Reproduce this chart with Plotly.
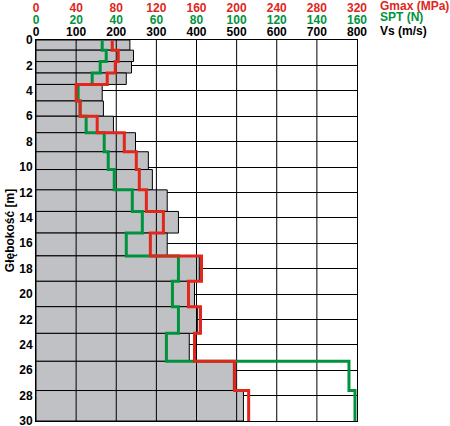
import plotly.graph_objects as go

# ---- data ----
depth_top = [0, 0.8, 1.7, 2.6, 3.5, 4.8, 6.0, 7.3, 8.8, 10.2, 11.8, 13.5, 15.2, 17.0, 19.0, 21.0, 23.1, 25.3, 27.6]
max_depth = 30
vs_values = [234, 243, 238, 225, 165, 168, 193, 248, 280, 290, 327, 355, 327, 407, 395, 403, 382, 492, 517]
gmax_values = [76, 82, 79, 71, 40, 44, 61, 88, 100, 103, 110, 127, 114, 165, 152, 164, 158, 198, 212]
spt_values = [33, 35, 32, 28, 21, 22, 25, 34, 36, 39, 48, 53, 45, 71, 68, 71, 65, 156, 159]

vs_ticks = [0, 100, 200, 300, 400, 500, 600, 700, 800]
spt_ticks = [0, 20, 40, 60, 80, 100, 120, 140, 160]
gmax_ticks = [0, 40, 80, 120, 160, 200, 240, 280, 320]
depth_ticks = [0, 2, 4, 6, 8, 10, 12, 14, 16, 18, 20, 22, 24, 26, 28, 30]

y_title = "Głębokość [m]"
gmax_title = "Gmax (MPa)"
spt_title = "SPT (N)"
vs_title = "Vs (m/s)"

# ---- styles ----
RED = "#e1261c"
GREEN = "#00933e"
GREY = "#c0c1c5"
FONT = "Liberation Sans, Arial, sans-serif"

depth_bottom = depth_top[1:] + [max_depth]
mid = [(a + b) / 2 for a, b in zip(depth_top, depth_bottom)]
thick = [b - a for a, b in zip(depth_top, depth_bottom)]

fig = go.Figure()

fig.add_trace(go.Bar(
    orientation="h", y=mid, x=vs_values, width=thick, base=0,
    marker=dict(color=GREY, line=dict(color="black", width=1)),
    xaxis="x", yaxis="y", hoverinfo="skip",
))

# vertical grid lines drawn over the bars
gx, gy = [], []
for t in vs_ticks[1:-1]:
    gx += [t, t, None]
    gy += [0, max_depth, None]
fig.add_trace(go.Scatter(x=gx, y=gy, mode="lines", line=dict(color="black", width=1),
                         xaxis="x", yaxis="y", hoverinfo="skip"))

fig.add_trace(go.Scatter(
    x=gmax_values + [gmax_values[-1]], y=depth_top + [max_depth], mode="lines",
    line=dict(color=RED, width=3, shape="vh"), xaxis="x3", yaxis="y", hoverinfo="skip",
))
fig.add_trace(go.Scatter(
    x=spt_values + [spt_values[-1]], y=depth_top + [max_depth], mode="lines",
    line=dict(color=GREEN, width=3, shape="vh"), xaxis="x2", yaxis="y", hoverinfo="skip",
))

tickfont = dict(family=FONT, size=12, weight="bold")

fig.update_layout(
    width=450, height=426,
    margin=dict(l=36, r=93, t=40, b=5),
    paper_bgcolor="white", plot_bgcolor="white",
    showlegend=False, hovermode=False,
    font=dict(family=FONT, size=12, color="black"),
    xaxis=dict(range=[0, 800], side="top", tickvals=vs_ticks, ticks="", showgrid=False,
               zeroline=False, showline=True, linecolor="black", linewidth=1, mirror=True,
               tickfont=dict(tickfont, color="black"), ticklabelstandoff=-2, automargin=False,
               ticklabeloverflow="allow"),
    xaxis2=dict(range=[0, 160], overlaying="x", anchor="y", side="top", tickvals=spt_ticks,
                ticks="", showgrid=False, zeroline=False, showline=False, automargin=False,
                tickfont=dict(tickfont, color=GREEN), ticklabelstandoff=13,
                ticklabeloverflow="allow"),
    xaxis3=dict(range=[0, 320], overlaying="x", anchor="y", side="top", tickvals=gmax_ticks,
                ticks="", showgrid=False, zeroline=False, showline=False, automargin=False,
                tickfont=dict(tickfont, color=RED), ticklabelstandoff=25,
                ticklabeloverflow="allow"),
    yaxis=dict(range=[max_depth, 0], tickvals=depth_ticks, ticks="", showgrid=True,
               gridcolor="black", gridwidth=1, zeroline=False, showline=True,
               linecolor="black", linewidth=1, mirror=True, automargin=False,
               ticklabeloverflow="allow",
               tickfont=dict(tickfont, color="black"),
               title=dict(text=y_title, font=dict(family=FONT, size=12, weight="bold"), standoff=2)),
)

tx = 1 + (378 - 357) / 321
for text, color, ypx in [(gmax_title, RED, 5.7), (spt_title, GREEN, 17.3), (vs_title, "black", 31)]:
    fig.add_annotation(text=text, xref="paper", yref="paper", x=tx, y=1 + (40 - ypx) / 381,
                       xanchor="left", yanchor="middle", showarrow=False,
                       font=dict(family=FONT, size=12, weight="bold", color=color))

fig.write_html("out.html", config={"displayModeBar": False, "staticPlot": True},
               post_script="document.body.style.margin='0';document.body.style.overflow='hidden';")
